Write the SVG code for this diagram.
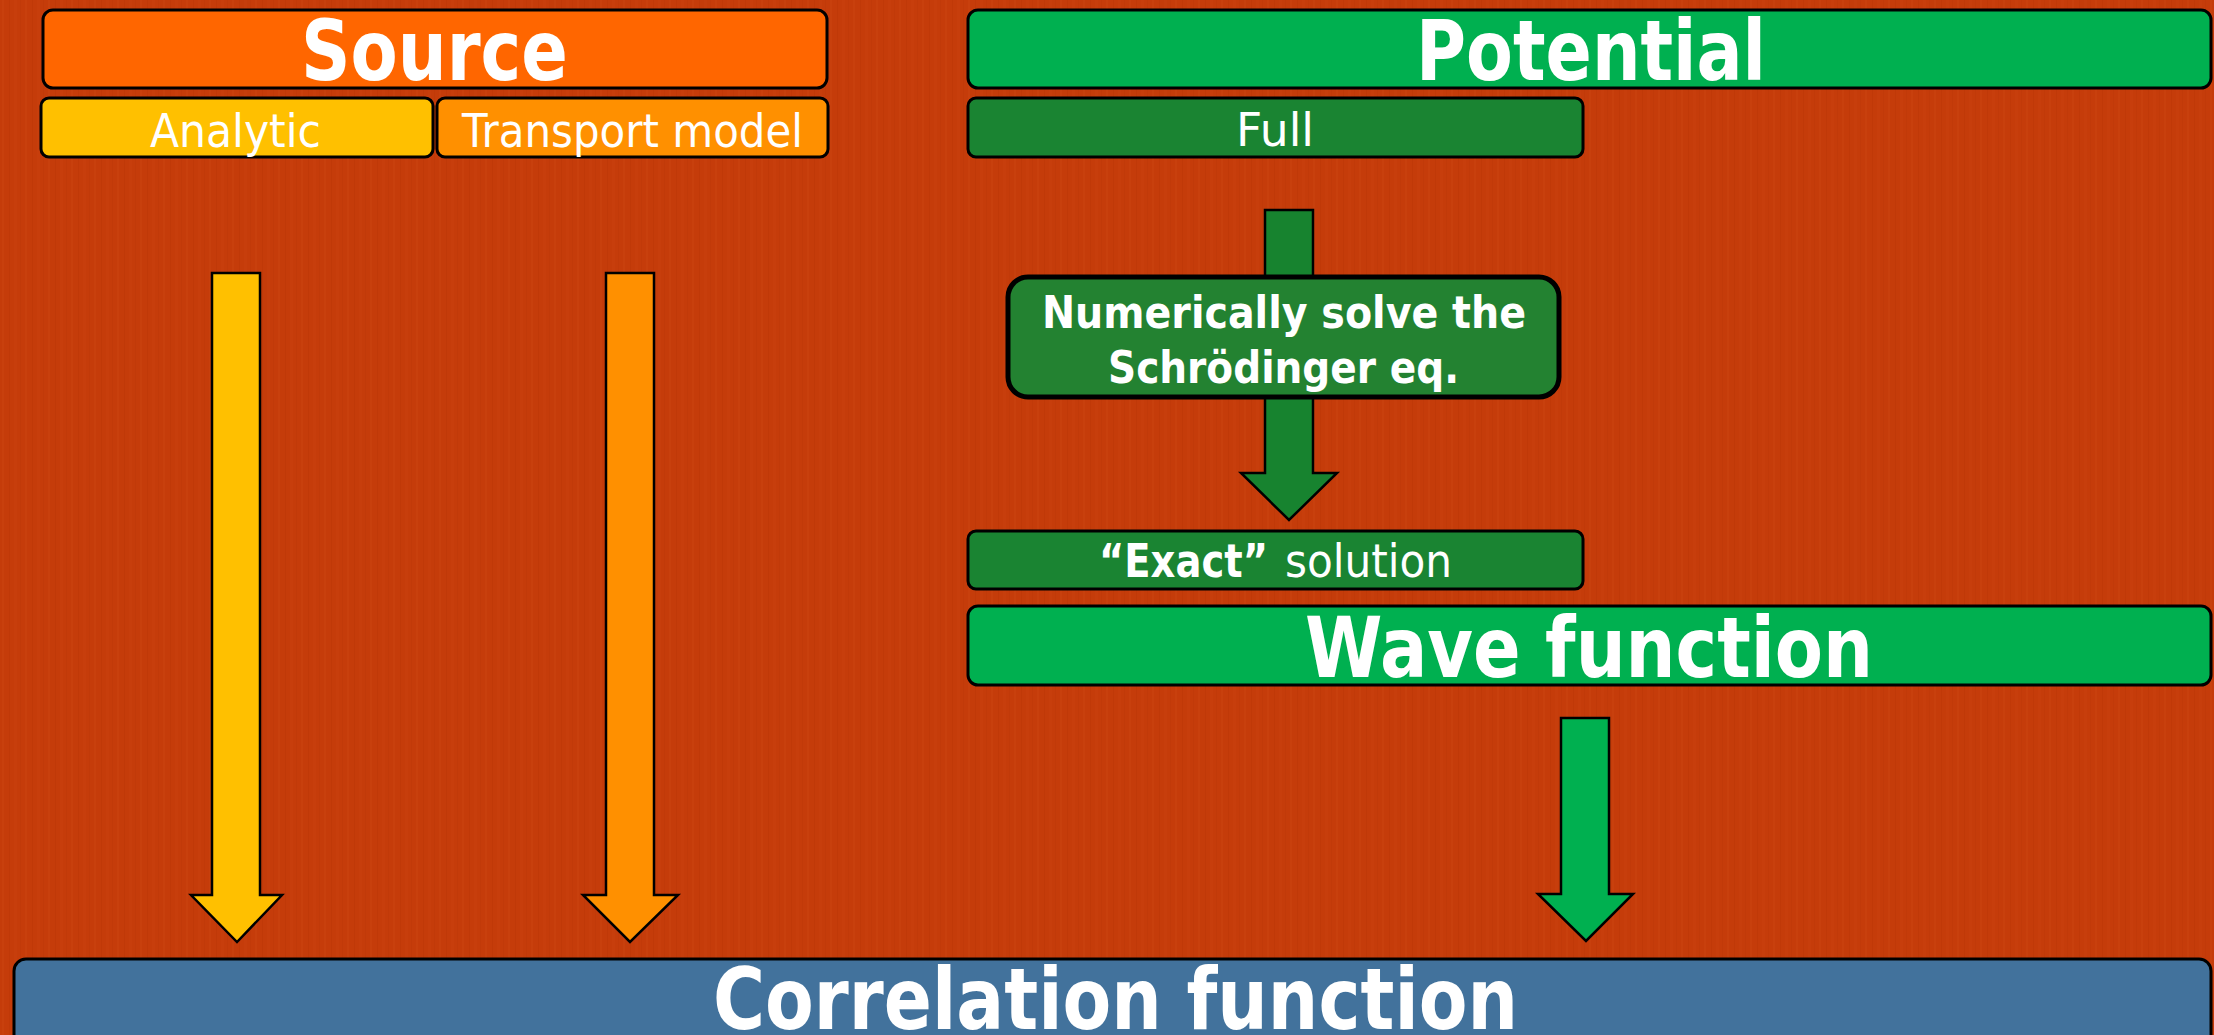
<svg xmlns="http://www.w3.org/2000/svg" width="2214" height="1035" viewBox="0 0 2214 1035">
<defs>
<pattern id="tex" width="23" height="1035" patternUnits="userSpaceOnUse">
<rect width="23" height="1035" fill="#C53C0A"/>
<rect x="2" width="2" height="1035" fill="#CC4612" opacity="0.4"/>
<rect x="9" width="1" height="1035" fill="#B93506" opacity="0.4"/>
<rect x="14" width="3" height="1035" fill="#CA430F" opacity="0.35"/>
<rect x="20" width="1" height="1035" fill="#BC3707" opacity="0.4"/>
</pattern>
</defs>
<style>
.box{stroke:#000;stroke-width:3}
.arr{stroke:#000;stroke-width:2.5;stroke-linejoin:miter}
text{font-family:"DejaVu Sans","Liberation Sans",sans-serif;fill:#fff;text-anchor:start}
.big{font-size:84px;font-weight:bold}
.mid{font-size:46px}
.b{font-weight:bold}
</style>
<rect width="2214" height="1035" fill="url(#tex)"/>

<g id="connectors">
<polygon class="arr" fill="#FFC000" points="212,273 260,273 260,895 282,895 237,942 191,895 212,895"/>
<polygon class="arr" fill="#FF9000" points="606,273 654,273 654,895 678,895 630,942 583,895 606,895"/>
<polygon class="arr" fill="#17832F" points="1265,210 1313,210 1313,473 1337,473 1289,520 1241,473 1265,473"/>
<polygon class="arr" fill="#00B050" points="1561,718 1609,718 1609,894 1633,894 1586,941 1538,894 1561,894"/>
</g>

<g id="source">
<rect class="box" x="43" y="10" width="784" height="78" rx="10" fill="#FF6600"/>
<text class="big" x="301" y="80" textLength="267" lengthAdjust="spacingAndGlyphs">Source</text>
</g>
<g id="analytic">
<rect class="box" x="41" y="98" width="392" height="59" rx="8" fill="#FFC000"/>
<text class="mid" x="150" y="147" textLength="171" lengthAdjust="spacingAndGlyphs">Analytic</text>
</g>
<g id="transport">
<rect class="box" x="437" y="98" width="391" height="59" rx="8" fill="#FF9000"/>
<text class="mid" x="462" y="147" textLength="341" lengthAdjust="spacingAndGlyphs">Transport model</text>
</g>
<g id="potential">
<rect class="box" x="968" y="10" width="1243" height="78" rx="10" fill="#00B050"/>
<text class="big" x="1416" y="80" textLength="350" lengthAdjust="spacingAndGlyphs">Potential</text>
</g>
<g id="full">
<rect class="box" x="968" y="98" width="615" height="59" rx="8" fill="#1A8432"/>
<text class="mid" x="1236" y="146" textLength="78" lengthAdjust="spacingAndGlyphs">Full</text>
</g>
<g id="numerically">
<rect x="1008" y="277" width="551" height="120" rx="20" fill="#238231" stroke="#000" stroke-width="5"/>
<text class="b" style="font-size:44px" x="1042" y="328" textLength="484" lengthAdjust="spacingAndGlyphs">Numerically solve the</text>
<text class="b" style="font-size:44px" x="1108" y="383" textLength="351" lengthAdjust="spacingAndGlyphs">Schrödinger eq.</text>
</g>
<g id="exact">
<rect class="box" x="968" y="531" width="615" height="58" rx="8" fill="#1A8432"/>
<text class="mid b" x="1099" y="577" textLength="169" lengthAdjust="spacingAndGlyphs">“Exact”</text>
<text class="mid" x="1285" y="577" textLength="167" lengthAdjust="spacingAndGlyphs">solution</text>
</g>
<g id="wave">
<rect class="box" x="968" y="606" width="1243" height="79" rx="10" fill="#00B050"/>
<text class="big" x="1305" y="677" textLength="568" lengthAdjust="spacingAndGlyphs">Wave function</text>
</g>
<g id="correlation">
<rect class="box" x="14" y="959" width="2197" height="100" rx="12" fill="#42729C"/>
<text class="big" style="font-size:86px" x="713" y="1029" textLength="805" lengthAdjust="spacingAndGlyphs">Correlation function</text>
</g>
</svg>
